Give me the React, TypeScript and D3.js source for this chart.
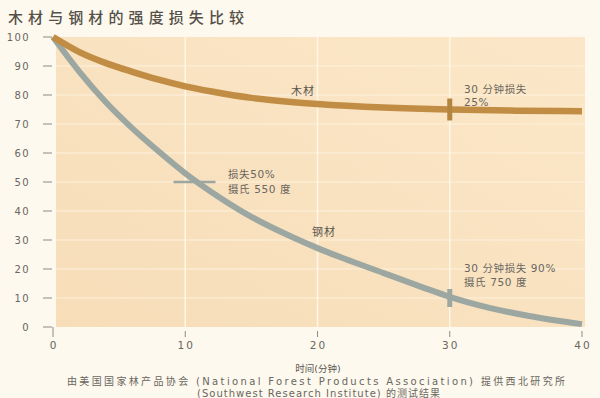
import React from "react";
import * as d3 from "d3";

const title = "木材与钢材的强度损失比较";
const xTicks = [0, 10, 20, 30, 40];
const yTicks = [0, 10, 20, 30, 40, 50, 60, 70, 80, 90, 100];
const woodT = [0, 2, 4, 6, 8, 10, 12, 15, 18, 20, 25, 30, 35, 40];
const woodV = [100, 94.8, 91, 88, 85.3, 83, 81.2, 79, 77.6, 76.9, 75.7, 75, 74.6, 74.4];
const steelT = [0, 2, 4, 6, 8, 10, 12, 15, 18, 20, 22, 25, 28, 30, 33, 36, 40];
const steelV = [100, 88, 77.5, 68.5, 60.5, 53, 46.5, 38, 31.2, 27.2, 23.6, 18.6, 13.6, 10.4, 6.6, 3.8, 1];
const woodLabel = "木材";
const steelLabel = "钢材";
const woodMarker = { t: 30, v: 75 };
const steelMarkerA = { t: 10.7, v: 50 };
const steelMarkerB = { t: 30, v: 10 };
const noteA = ["损失50%", "摄氏 550 度"];
const noteWood = ["30 分钟损失", "25%"];
const noteSteel = ["30 分钟损失 90%", "摄氏 750 度"];
const xTitle = "时间(分钟)";
const source1 = "由美国国家林产品协会 (National Forest Products Association) 提供西北研究所";
const source2 = "(Southwest Research Institute) 的测试结果";

const W = 600;
const H = 398;
const x = d3.scaleLinear().domain([0, 40]).range([53, 582]);
const y = d3.scaleLinear().domain([0, 100]).range([327, 37]);

const line = d3
  .line<[number, number]>()
  .x((d) => x(d[0]))
  .y((d) => y(d[1]))
  .curve(d3.curveMonotoneX);

const woodPts: [number, number][] = woodT.map((t, i) => [t, woodV[i]]);
const steelPts: [number, number][] = steelT.map((t, i) => [t, steelV[i]]);

const font = "'DejaVu Sans', 'Noto Sans CJK SC', sans-serif";
const cjk = "'Noto Sans CJK SC', 'DejaVu Sans', sans-serif";
const WOOD = "#c18d45";
const STEEL = "#9ca7a1";
const TXT = "#6a6660";

export default function App() {
  return (
    <svg
      width={W}
      height={H}
      style={{ position: "absolute", left: 0, top: 0, display: "block", background: "#fdf9ee" }}
    >
      <defs>
        <linearGradient id="bg" x1="0" y1="1" x2="1" y2="0">
          <stop offset="0%" stopColor="#f7ddb8" />
          <stop offset="100%" stopColor="#fbe7c8" />
        </linearGradient>
      </defs>
      <rect x={0} y={0} width={W} height={H} fill="#fdf9ee" />
      <text
        x={8}
        y={23}
        fontFamily={cjk}
        fontSize={15}
        fontWeight={500}
        fill="#555049"
        textLength={236}
        lengthAdjust="spacing"
      >
        {title}
      </text>
      {/* plot area */}
      <rect
        x={x(0) + 3}
        y={y(100)}
        width={x(40) + 3 - (x(0) + 3)}
        height={y(0) - y(100)}
        fill="url(#bg)"
      />
      {/* horizontal grid */}
      {yTicks
        .filter((v) => v > 0 && v < 100)
        .map((v) => (
          <line
            key={"hg" + v}
            x1={x(0) + 3}
            x2={x(40) + 3}
            y1={y(v)}
            y2={y(v)}
            stroke="#fdf1dd"
            strokeWidth={1.2}
          />
        ))}
      {/* vertical grid */}
      {xTicks
        .filter((t) => t > 0 && t < 40)
        .map((t) => (
          <line
            key={"vg" + t}
            x1={x(t)}
            x2={x(t)}
            y1={y(100)}
            y2={y(0)}
            stroke="#fff6e6"
            strokeWidth={1.5}
          />
        ))}
      {/* y ticks */}
      {yTicks.map((v) => (
        <g key={"yt" + v}>
          <line x1={43} x2={52} y1={y(v)} y2={y(v)} stroke="#8f8b85" strokeWidth={1} />
          <text
            x={30}
            y={y(v) + 3.5}
            textAnchor="end"
            fontFamily={font}
            fontSize={10}
            fill={TXT}
            letterSpacing={1.4}
          >
            {v}
          </text>
        </g>
      ))}
      {/* x ticks */}
      {xTicks.map((t) => (
        <g key={"xt" + t}>
          <line x1={x(t)} x2={x(t)} y1={y(0) + (t === 0 ? 0 : 4)} y2={y(0) + 10} stroke="#8f8b85" strokeWidth={1} />
          <text
            x={x(t) + 1}
            y={y(0) + 22}
            textAnchor="middle"
            fontFamily={font}
            fontSize={10.5}
            fill={TXT}
            letterSpacing={2}
          >
            {t}
          </text>
        </g>
      ))}
      {/* curves */}
      <path d={line(steelPts) || ""} fill="none" stroke={STEEL} strokeWidth={6} strokeLinecap="butt" />
      <path d={line(woodPts) || ""} fill="none" stroke={WOOD} strokeWidth={6.5} strokeLinecap="butt" />
      {/* markers */}
      <line
        x1={x(woodMarker.t)}
        x2={x(woodMarker.t)}
        y1={y(woodMarker.v) - 11}
        y2={y(woodMarker.v) + 11}
        stroke="#b4853f"
        strokeWidth={5}
      />
      <line
        x1={x(steelMarkerB.t)}
        x2={x(steelMarkerB.t)}
        y1={y(steelMarkerB.v) - 9}
        y2={y(steelMarkerB.v) + 9}
        stroke={STEEL}
        strokeWidth={5}
      />
      <line
        x1={x(steelMarkerA.t) - 21}
        x2={x(steelMarkerA.t) + 21}
        y1={y(steelMarkerA.v)}
        y2={y(steelMarkerA.v)}
        stroke={STEEL}
        strokeWidth={2.5}
      />
      {/* labels */}
      <text x={303} y={95} textAnchor="middle" fontFamily={cjk} fontSize={11} fill="#5a5650" letterSpacing={1}>
        {woodLabel}
      </text>
      <text x={324} y={236} textAnchor="middle" fontFamily={cjk} fontSize={11} fill="#5a5650" letterSpacing={1}>
        {steelLabel}
      </text>
      {noteA.map((s, i) => (
        <text key={"na" + i} x={228} y={178 + i * 15} fontFamily={font} fontSize={10.5} fill={TXT} letterSpacing={0.6}>
          {s}
        </text>
      ))}
      {noteWood.map((s, i) => (
        <text key={"nw" + i} x={464} y={93 + i * 13} fontFamily={font} fontSize={10.5} fill={TXT} letterSpacing={0.6}>
          {s}
        </text>
      ))}
      {noteSteel.map((s, i) => (
        <text key={"ns" + i} x={464} y={272 + i * 14} fontFamily={font} fontSize={10.5} fill={TXT} letterSpacing={0.6}>
          {s}
        </text>
      ))}
      {/* footer */}
      <text x={318} y={372} textAnchor="middle" fontFamily={font} fontSize={9.5} fill="#5a5650">
        {xTitle}
      </text>
      <text
        x={67}
        y={385}
        fontFamily={font}
        fontSize={10}
        fill={TXT}
        textLength={498}
        lengthAdjust="spacing"
      >
        {source1}
      </text>
      <text
        x={197}
        y={397}
        fontFamily={font}
        fontSize={10}
        fill={TXT}
        textLength={243}
        lengthAdjust="spacing"
      >
        {source2}
      </text>
    </svg>
  );
}
